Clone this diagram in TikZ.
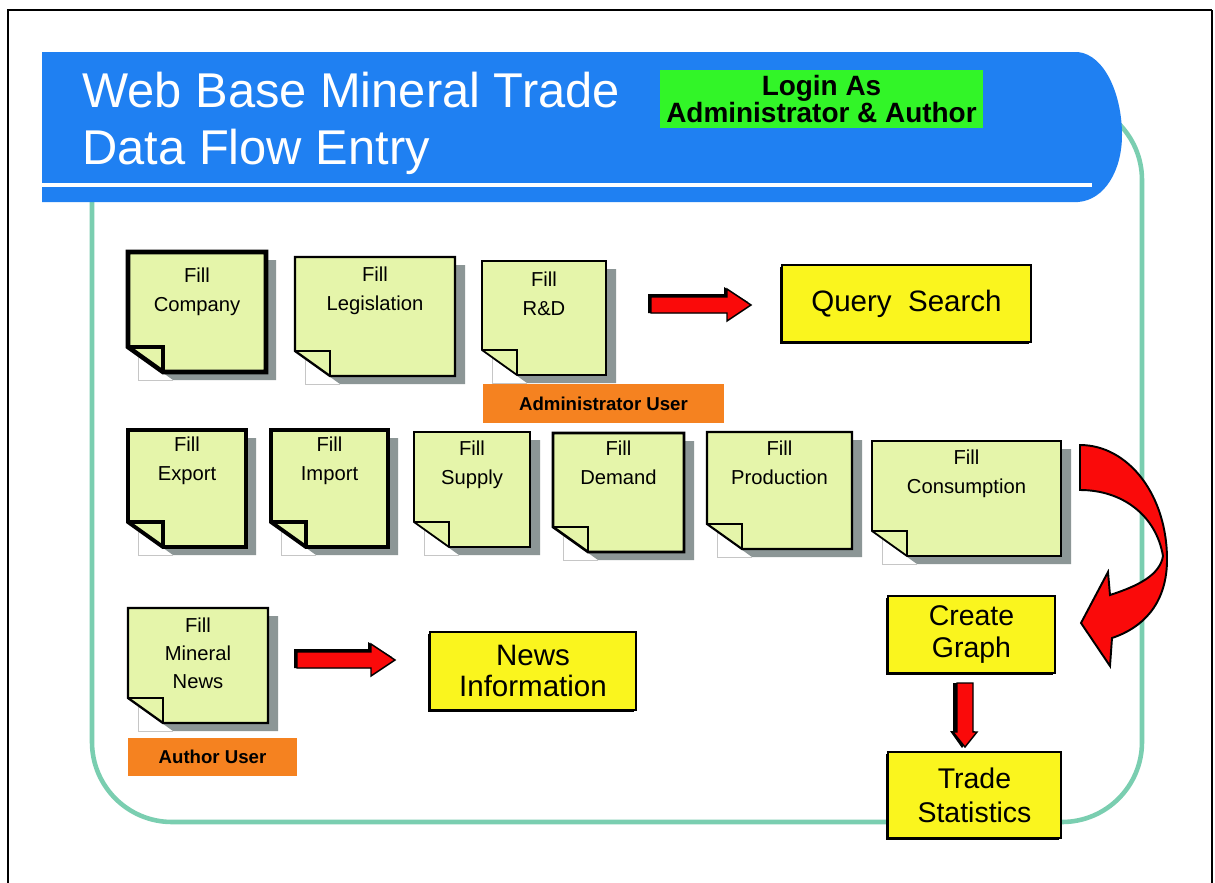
\documentclass[tikz,border=0pt]{standalone}
\usepackage{fontspec}
\setmainfont{Liberation Sans}
\usetikzlibrary{calc}
\definecolor{headblue}{RGB}{31,128,242}
\definecolor{tealline}{RGB}{122,206,176}
\definecolor{notefill}{RGB}{229,245,170}
\definecolor{noteshadow}{RGB}{140,150,150}
\definecolor{boxyellow}{RGB}{250,245,30}
\definecolor{userorange}{RGB}{245,130,32}
\definecolor{logingreen}{RGB}{50,245,40}
\definecolor{arrowred}{RGB}{250,10,10}
\tikzset{
  notebox/.style={fill=notefill, draw=black, line join=miter},
  notetext/.style={font=\fontsize{11.5}{16}\selectfont, align=center, inner sep=0pt, anchor=north},
  yellowbox/.style={fill=boxyellow, draw=black, line width=1.4pt, align=center, inner sep=0pt,
    font=\fontsize{16.2}{18}\selectfont,
    preaction={fill=black, transform canvas={xshift=-1.3pt, yshift=-1.3pt}}},
  userbox/.style={fill=userorange, inner sep=0pt, font=\bfseries\fontsize{10.6}{12}\selectfont},
  redarrow/.style={fill=arrowred, draw=black, line width=0.8pt, line join=miter},
  pics/harrow/.style={code={
    \fill[black] (-3,-11) -- (#1-27,-11) -- (#1-27,-18) -- (#1-3,-3) -- (#1-24,8) -- (-3,8) -- cycle;
    \draw[redarrow] (0,-8) -- (#1-24,-8) -- (#1-24,-16) -- (#1,0) -- (#1-24,16) -- (#1-24,8) -- (0,8) -- cycle;
  }},
}
\newcommand{\stickynote}[8]{%
  \fill[noteshadow] (#2+10,#3+8) -- (#4+10,#3+8) -- (#4+10,#5+8) -- (#2+45,#5+8) -- (#2+10,#5-17) -- cycle;
  \draw[gray!45, line width=0.4pt] (#2+10,#5-17) -- (#2+10,#5+8) -- (#2+45,#5+8);
  \draw[notebox, line width=#6] (#2,#3) -- (#4,#3) -- (#4,#5) -- (#2+35,#5) -- (#2,#5-25) -- cycle;
  \draw[line width=#6, line join=miter] (#2,#5-25) -- (#2+35,#5-25) -- (#2+35,#5);
  \node[notetext] (#1) at ({(#2+#4)/2},#8-15) {#7};
}
\begin{document}
\begin{tikzpicture}[x=0.02cm,y=-0.02cm]
\useasboundingbox (0,0) rectangle (1215,883);
\fill[white] (0,0) rectangle (1215,883);
% outer frame
\draw[line width=1.7pt] (8,883) -- (8,10) -- (1212,10);
\draw[line width=1pt] (1212,10) -- (1212,883);
% teal rounded frame
\draw[tealline, line width=2.6pt, rounded corners=1.6cm] (92,100) rectangle (1142,822);
% header
\fill[headblue] (42,52) -- (1078,52) .. controls (1105,55) and (1122,95) .. (1122,135)
   .. controls (1122,170) and (1105,200) .. (1078,202) -- (42,202) -- cycle;
\draw[white, line width=2.3pt] (42,185) -- (1092,185);
\node[white, font=\fontsize{27.8}{32.3}\selectfont, align=left, inner sep=0pt, anchor=north west] (title) at (82,72)
  {Web Base Mineral Trade\\Data Flow Entry};
\node[fill=logingreen, minimum width=6.46cm, minimum height=1.16cm, inner sep=0pt, align=center,
  font=\bfseries\fontsize{15.9}{15.9}\selectfont] (login) at (821.5,99) {Login As\\Administrator \& Author};
% sticky notes
\stickynote{company}{128}{252}{266}{372}{2.6pt}{Fill\\Company}{283}
\stickynote{legis}{295}{257}{455}{376}{1.3pt}{Fill\\Legislation}{282}
\stickynote{rd}{482}{261}{606}{375}{1pt}{Fill\\R\&D}{287}
\stickynote{export}{128}{430}{246}{547}{2.2pt}{Fill\\Export}{452}
\stickynote{import}{271}{430}{388}{547}{2.2pt}{Fill\\Import}{452}
\stickynote{supply}{414}{432}{530}{547}{1pt}{Fill\\Supply}{456}
\stickynote{demand}{553}{433}{684}{552}{1.5pt}{Fill\\Demand}{456}
\stickynote{production}{707}{432}{852}{549}{1.2pt}{Fill\\Production}{456}
\stickynote{consumption}{872}{441}{1061}{556}{1pt}{Fill\\Consumption}{465}
\stickynote{mineralnews}{128}{608}{268}{723}{1.3pt}{Fill\\Mineral\\News}{632}
% user labels
\node[userbox, minimum width=4.82cm, minimum height=0.78cm] (adminuser) at (603.5,403.5) {Administrator User};
\node[userbox, minimum width=3.38cm, minimum height=0.76cm] (authoruser) at (212.5,757) {Author User};
% yellow boxes
\node[yellowbox, minimum width=4.98cm, minimum height=1.54cm, font=\fontsize{16.8}{18}\selectfont] (query) at (906.5,303.5) {Query~ Search};
\node[yellowbox, minimum width=4.12cm, minimum height=1.56cm, font=\fontsize{16.8}{17.5}\selectfont] (news) at (533,671) {News\\Information};
\node[yellowbox, minimum width=3.34cm, minimum height=1.54cm] (graph) at (971.5,634.5) {Create\\Graph};
\node[yellowbox, minimum width=3.46cm, minimum height=1.72cm, font=\fontsize{16.2}{19.5}\selectfont] (trade) at (974.5,795) {Trade\\Statistics};
% straight arrows
\coordinate (arrA) at (651,305);
\coordinate (arrB) at (297,660);
\pic at (arrA) {harrow=100};
\pic at (arrB) {harrow=98};
% down arrow
\coordinate (arrC) at (965,683);
\fill[black] (953,683) -- (970,683) -- (970,731) -- (975,731) -- (962,748) -- (950,731) -- (953,731) -- cycle;
\draw[redarrow] (957,683) -- (973,683) -- (973,732) -- (977,732) -- (965,747) -- (953,732) -- (957,732) -- cycle;
% curved arrow
\draw[redarrow, line width=1.1pt] (1080,445) .. controls (1128,445) and (1168,495) .. (1167,562)
   .. controls (1166,605) and (1142,628) .. (1112,638) -- (1110,666) -- (1081,623) -- (1108,572) -- (1110,595)
   .. controls (1138,586) and (1160,575) .. (1163,556)
   .. controls (1156,515) and (1122,490) .. (1080,490) -- cycle;
\end{tikzpicture}
\end{document}
